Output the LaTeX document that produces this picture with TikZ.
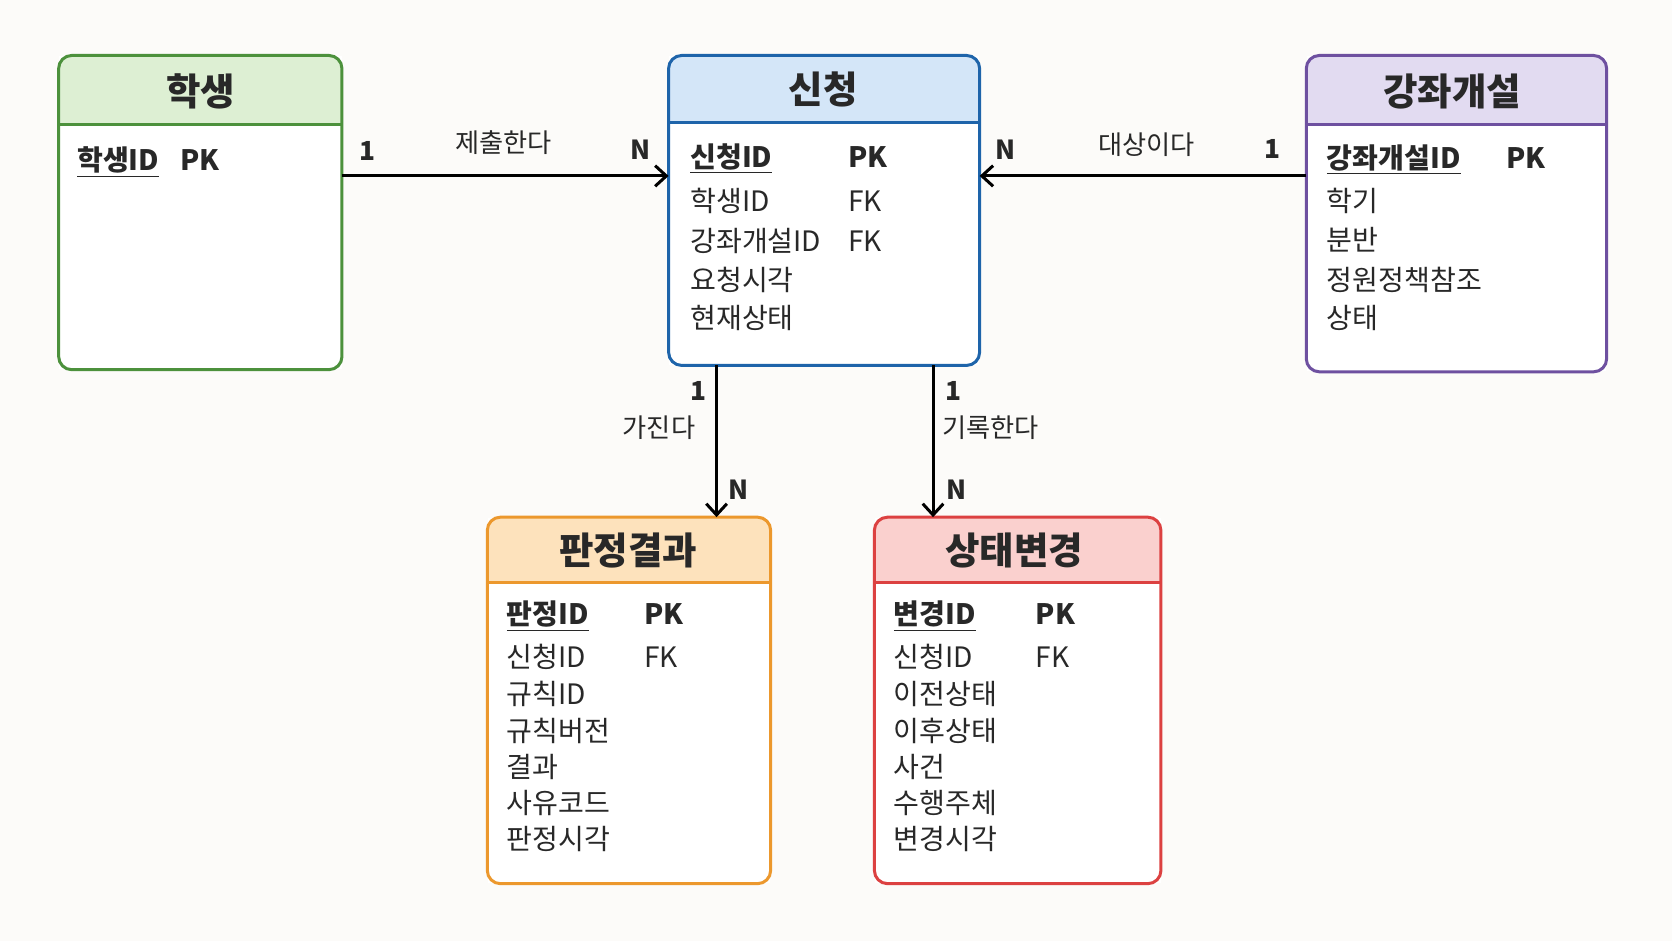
\documentclass[tikz,border=0pt]{standalone}
\usepackage{fontspec}
\setmainfont{Noto Sans CJK KR}
\usetikzlibrary{positioning, arrows.meta}
\definecolor{erBg}{RGB}{252, 251, 249}
\definecolor{erGreen}{RGB}{76, 145, 60}
\definecolor{erGreenL}{RGB}{221, 239, 211}
\definecolor{erBlue}{RGB}{30, 100, 170}
\definecolor{erBlueL}{RGB}{212, 230, 248}
\definecolor{erPurple}{RGB}{110, 80, 160}
\definecolor{erPurpleL}{RGB}{226, 219, 241}
\definecolor{erOrange}{RGB}{236, 152, 45}
\definecolor{erOrangeL}{RGB}{253, 226, 188}
\definecolor{erRed}{RGB}{220, 65, 65}
\definecolor{erRedL}{RGB}{250, 208, 206}
\definecolor{erText}{RGB}{40, 40, 40}
\tikzset{
    entity/.style={
        rectangle,
        anchor=north west,
        draw=none,
        fill=white,
        inner sep=0pt
    },
    frame/.style={
        line width=1.6pt,
        rounded corners=7pt
    },
    title/.style={
        font=\fontsize{20}{24}\selectfont\bfseries,
        text=erText
    },
    field/.style={
        font=\fontsize{15}{18}\selectfont,
        text=erText,
        anchor=base west,
        inner sep=0pt
    },
    key/.style={
        field,
        font=\fontsize{15}{18}\selectfont\bfseries
    },
    flow/.style={
        -{Straight Barb[length=6pt, width=11pt]},
        line width=1.6pt,
        color=black
    },
    card/.style={
        font=\fontsize{14}{17}\selectfont\bfseries,
        text=erText
    },
    rel/.style={
        font=\fontsize{14}{17}\selectfont,
        text=erText
    }
}
% entity box: name, x, y, width, height, header height, line colour, header colour
\newcommand{\erbox}[8]{
    \node[entity, minimum width=#4*0.02cm, minimum height=#5*0.02cm] (#1) at (#2,#3) {};
    \fill[#8] ([yshift=-#6*0.02cm]#1.north west) [rounded corners=7pt] -- (#1.north west)
        -- (#1.north east) [sharp corners] -- ([yshift=-#6*0.02cm]#1.north east) -- cycle;
    \draw[#7, line width=1.6pt] ([yshift=-#6*0.02cm]#1.north west) -- ([yshift=-#6*0.02cm]#1.north east);
    \draw[#7, frame] (#1.north west) rectangle (#1.south east);
}

\begin{document}
\begin{tikzpicture}[x=0.02cm, y=-0.02cm]
    \fill[erBg] (0,0) rectangle (1568,882);
    \useasboundingbox (0,0) rectangle (1568,882);

    % Entities
    \erbox{hak}{55}{52}{265}{294}{65}{erGreen}{erGreenL}
    \erbox{sin}{627}{52}{291}{290}{63}{erBlue}{erBlueL}
    \erbox{gang}{1225}{52}{281}{296}{65}{erPurple}{erPurpleL}
    \erbox{pan}{457}{485}{265}{343}{61}{erOrange}{erOrangeL}
    \erbox{sang}{820}{485}{268}{343}{61}{erRed}{erRedL}

    % Titles
    \node[title] (hakT) at (188,86) {학생};
    \node[title] (sinT) at (772,84) {신청};
    \node[title] (gangT) at (1362,86) {강좌개설};
    \node[title] (panT) at (589,516) {판정결과};
    \node[title] (sangT) at (951,516) {상태변경};

    % 학생 fields
    \node[key] (hak1) at (72,160) {\underline{학생ID}};
    \node[key] (hak1k) at (169,160) {PK};

    % 신청 fields
    \node[key] (sin1) at (647,157) {\underline{신청ID}};
    \node[key] (sin1k) at (795,157) {PK};
    \node[field] (sin2) at (647,198) {학생ID};
    \node[field] (sin2k) at (795,198) {FK};
    \node[field] (sin3) at (647,236) {강좌개설ID};
    \node[field] (sin3k) at (795,236) {FK};
    \node[field] (sin4) at (647,272) {요청시각};
    \node[field] (sin5) at (647,308) {현재상태};

    % 강좌개설 fields
    \node[key] (gang1) at (1244,158) {\underline{강좌개설ID}};
    \node[key] (gang1k) at (1412,158) {PK};
    \node[field] (gang2) at (1244,198) {학기};
    \node[field] (gang3) at (1244,235) {분반};
    \node[field] (gang4) at (1244,272) {정원정책참조};
    \node[field] (gang5) at (1244,308) {상태};

    % 판정결과 fields
    \node[key] (pan1) at (475,586) {\underline{판정ID}};
    \node[key] (pan1k) at (604,586) {PK};
    \node[field] (pan2) at (475,626) {신청ID};
    \node[field] (pan2k) at (604,626) {FK};
    \node[field] (pan3) at (475,661) {규칙ID};
    \node[field] (pan4) at (475,695) {규칙버전};
    \node[field] (pan5) at (475,729) {결과};
    \node[field] (pan6) at (475,763) {사유코드};
    \node[field] (pan7) at (475,797) {판정시각};

    % 상태변경 fields
    \node[key] (sang1) at (838,586) {\underline{변경ID}};
    \node[key] (sang1k) at (971,586) {PK};
    \node[field] (sang2) at (838,626) {신청ID};
    \node[field] (sang2k) at (971,626) {FK};
    \node[field] (sang3) at (838,661) {이전상태};
    \node[field] (sang4) at (838,695) {이후상태};
    \node[field] (sang5) at (838,729) {사건};
    \node[field] (sang6) at (838,763) {수행주체};
    \node[field] (sang7) at (838,797) {변경시각};

    % Relations
    \draw[flow] (hak.east |- 0,165) -- (sin.west |- 0,165);
    \node[card] (c1) at (345,142) {1};
    \node[rel] (r1) at (472,134) {제출한다};
    \node[card] (c2) at (601,140) {N};

    \draw[flow] (gang.west |- 0,165) -- (sin.east |- 0,165);
    \node[card] (c3) at (943,140) {N};
    \node[rel] (r2) at (1075,136) {대상이다};
    \node[card] (c4) at (1193,140) {1};

    \draw[flow] (sin.south -| 672,0) -- (pan.north -| 672,0);
    \node[card] (c5) at (655,367) {1};
    \node[rel] (r3) at (618,401) {가진다};
    \node[card] (c6) at (693,459) {N};

    \draw[flow] (sin.south -| 875,0) -- (sang.north -| 875,0);
    \node[card] (c7) at (894,367) {1};
    \node[rel] (r4) at (929,401) {기록한다};
    \node[card] (c8) at (897,459) {N};
\end{tikzpicture}
\end{document}
